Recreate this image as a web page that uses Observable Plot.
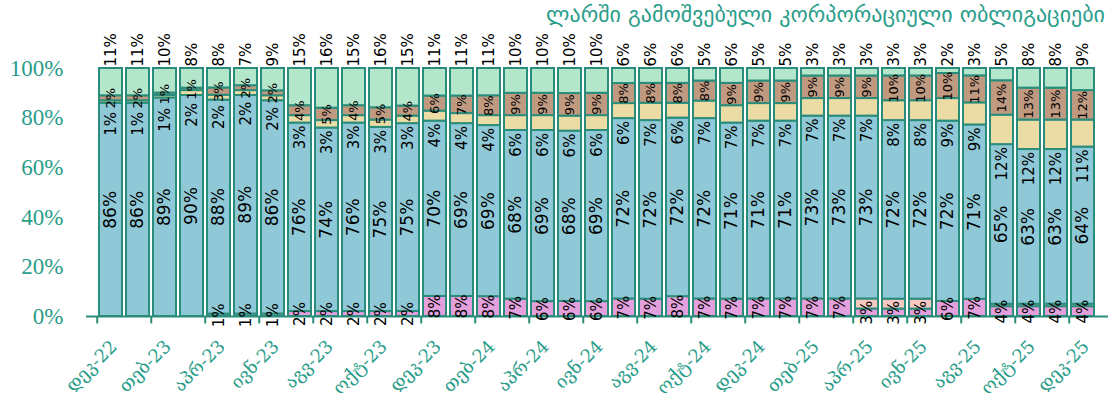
<!DOCTYPE html>
<html><head><meta charset="utf-8">
<script src="https://cdn.jsdelivr.net/npm/d3@7"></script>
<script src="https://cdn.jsdelivr.net/npm/@observablehq/plot@0.6"></script>
<style>
body{margin:0;background:#fff;}
#wrap{position:relative;width:1112px;height:405px;overflow:hidden;}
#title{position:absolute;right:7px;top:2px;font-family:"DejaVu Sans",sans-serif;font-size:22px;color:#2a9d8a;white-space:nowrap;}
#chart{position:absolute;left:0;top:0;}
</style></head><body>
<div id="wrap"><div id="chart"></div><div id="title">ლარში გამოშვებული კორპორაციული ობლიგაციები</div></div>
<script>
const categories = ["დეკ-22","იან-23","თებ-23","მარ-23","აპრ-23","მაი-23","ივნ-23","ივლ-23","აგვ-23","სექ-23","ოქტ-23","ნოე-23",
  "დეკ-23","იან-24","თებ-24","მარ-24","აპრ-24","მაი-24","ივნ-24","ივლ-24","აგვ-24","სექ-24","ოქტ-24","ნოე-24",
  "დეკ-24","იან-25","თებ-25","მარ-25","აპრ-25","მაი-25","ივნ-25","ივლ-25","აგვ-25","სექ-25","ოქტ-25","ნოე-25","დეკ-25"];
const seriesNames = ["s1","s2","s3","s4","s5","s6"];
const pink   = [0,0,0,0,1,1,1,2,2,2,2,2,8,8,8,7,6,6,6,7,7,8,7,7,7,7,7,7,3,3,3,6,7,4,4,4,4];
const salmon = [0,0,0,0,0,0,0,0,0,0,0,0,0,0,0,0,0,0,0,0,0,0,0,0,0,0,0,0,4,4,4,0,0,1,1,1,1];
const blue   = [86,86,89,90,88,89,86,76,74,76,75,75,70,69,69,68,69,68,69,72,72,72,72,71,71,71,73,73,73,72,72,72,71,65,63,63,64];
const yellow = [1,1,1,2,2,2,2,3,3,3,3,3,4,4,4,6,6,6,6,6,7,6,7,7,7,7,7,7,7,8,8,9,9,12,12,12,11];
const brown  = [2,2,1,1,3,2,2,4,5,4,5,4,6,7,8,9,9,9,9,8,8,8,8,9,9,9,9,9,9,10,10,10,11,14,13,13,12];
const green  = [11,11,10,8,8,7,9,15,16,15,16,15,11,11,11,10,10,10,10,6,6,6,5,6,5,5,3,3,3,3,3,2,3,5,8,8,9];
const colors = ["#e4a0dc","#f8c9c1","#8fc8d6","#ebdca6","#c09a80","#b4e6cb"];
const yTicks = [0,0.2,0.4,0.6,0.8,1];
const xTickLabels = categories.filter((d,i)=>i%2===0);

const teal = "#2a9d8a", edge = "#2a8c7a";
const W = 1112, H = 405, mT = 68, mB = 89, mL = 86, mR = 4, pad = 0.14;
const plotH = H - mT - mB;
const step = (W - mL - mR) / (categories.length - pad + 2 * pad);
const rows = [], labels = [];
categories.forEach((c,i)=>{
  const vals=[pink[i],salmon[i],blue[i],yellow[i],brown[i],green[i]];
  const T=d3.sum(vals);
  let cum=0; const base=[], top=[];
  vals.forEach((v,k)=>{ base[k]=cum/T; cum+=v; top[k]=cum/T; if(v>0) rows.push({cat:c,series:seriesNames[k],v}); });
  if(pink[i]>0) labels.push({cat:c,y:(base[0]+top[0])/2,t:pink[i]+"%",kind:"mid"});
  labels.push({cat:c,y:(base[2]+top[2])/2,t:blue[i]+"%",kind:"big"});
  const brownMid=(base[4]+top[4])/2;
  labels.push({cat:c,y:brownMid,t:brown[i]+"%",kind:"small"});
  labels.push({cat:c,y:Math.min(base[3],brownMid-0.045)-0.01,t:yellow[i]+"%",kind:"end"});
  labels.push({cat:c,y:1,t:green[i]+"%",kind:"start"});
});
const lblFont = "DejaVu Sans, sans-serif";
const chart = Plot.plot({
  width:W, height:H,
  marginTop:mT, marginBottom:mB, marginLeft:mL, marginRight:mR,
  x:{domain:categories, padding:pad, axis:null},
  y:{domain:[0,1], axis:null},
  color:{domain:seriesNames, range:colors},
  marks:[
    Plot.barY(rows, Plot.stackY({offset:"normalize"}, {x:"cat", y:"v", z:"series", fill:"series", stroke:edge, strokeWidth:2})),
    Plot.ruleY([0], {stroke:edge, strokeWidth:2}),
    Plot.ruleX(xTickLabels, {x:d=>d, y1:0, y2:-0.03, stroke:edge, strokeWidth:2, dx:-step/2}),
    Plot.axisY({ticks:yTicks, tickFormat:d=>Math.round(d*100)+"%", tickSize:0, tickPadding:23, fontSize:23, fontFamily:"Liberation Serif, serif", fill:teal, label:null}),
    Plot.text(xTickLabels, {x:d=>d, y:0, text:d=>d, dy:27, dx:3, rotate:-45, textAnchor:"end", fontSize:18, fontFamily:"DejaVu Serif, DejaVu Sans, serif", fill:teal}),
    Plot.text(labels.filter(d=>d.kind==="big"), {x:"cat", y:"y", text:"t", rotate:-90, fontSize:17, fontFamily:lblFont, fill:"#000"}),
    Plot.text(labels.filter(d=>d.kind==="mid"), {x:"cat", y:"y", text:"t", rotate:-90, fontSize:15, fontFamily:lblFont, fill:"#000"}),
    Plot.text(labels.filter(d=>d.kind==="small"), {x:"cat", y:"y", text:"t", rotate:-90, fontSize:13, fontFamily:lblFont, fill:"#000"}),
    Plot.text(labels.filter(d=>d.kind==="end"), {x:"cat", y:"y", text:"t", rotate:-90, textAnchor:"end", fontSize:15, fontFamily:lblFont, fill:"#000"}),
    Plot.text(labels.filter(d=>d.kind==="start"), {x:"cat", y:"y", text:"t", rotate:-90, textAnchor:"start", dy:-2, fontSize:15, fontFamily:lblFont, fill:"#000"})
  ]
});
document.getElementById("chart").appendChild(chart);
</script>
</body></html>
